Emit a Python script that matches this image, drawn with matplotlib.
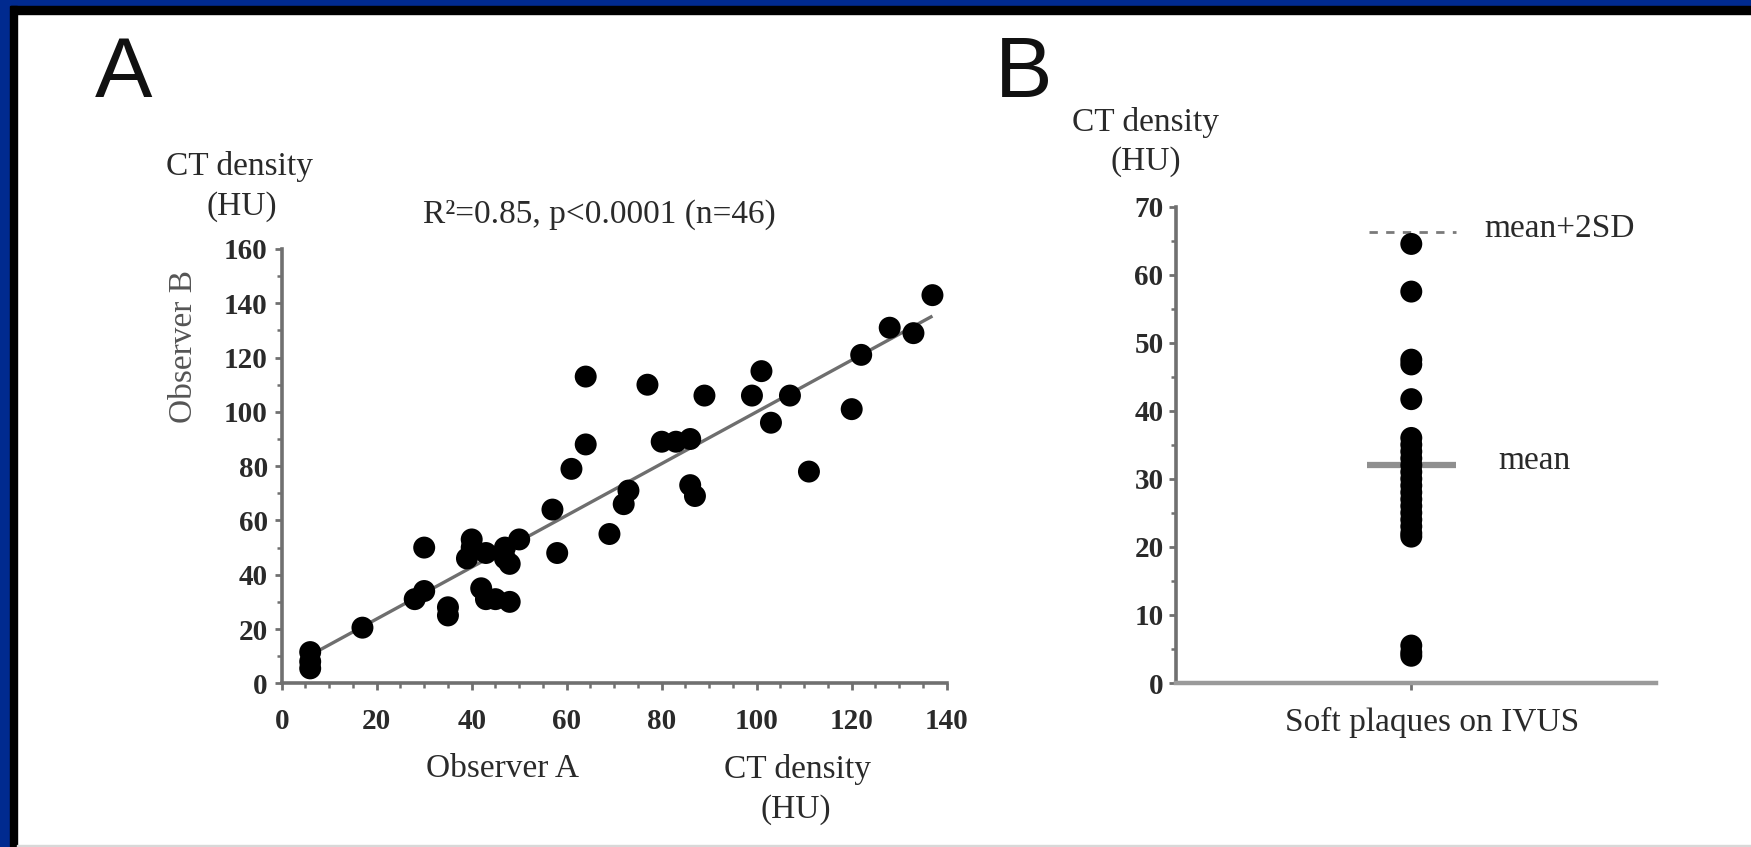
import numpy as np
import matplotlib
matplotlib.use("Agg")
import matplotlib.pyplot as plt
from matplotlib.patches import Rectangle
from matplotlib.ticker import MultipleLocator

# ---------------- data ----------------
observer_a = [6, 6, 6, 17, 30, 28, 30, 35, 35, 40, 40, 39, 43, 42, 43, 45, 48, 47, 47, 48,
              50, 57, 58, 61, 64, 64, 69, 72, 73, 77, 80, 83, 86, 86, 87, 89, 99, 101, 103,
              107, 111, 120, 122, 128, 133, 137]
observer_b = [11.5, 8, 5.5, 20.5, 50, 31, 34, 28, 25, 53, 50, 46, 48, 35, 31, 31, 30, 50, 46, 44,
              53, 64, 48, 79, 113, 88, 55, 66, 71, 110, 89, 89, 90, 73, 69, 106, 106, 115, 96,
              106, 78, 101, 121, 131, 129, 143]
a_xticks = [0, 20, 40, 60, 80, 100, 120, 140]
a_yticks = [0, 20, 40, 60, 80, 100, 120, 140, 160]
stat_text = "R\u00b2=0.85, p<0.0001 (n=46)"

soft_plaque_ct = [64.5, 57.5, 47.5, 46.8, 41.7, 36, 35, 34, 33, 32, 31, 30, 29, 28, 27, 26,
                  25, 24, 23, 22, 21.5, 5.5, 4.5, 4]
b_yticks = [0, 10, 20, 30, 40, 50, 60, 70]
mean_value = 32
mean_plus_2sd = 66.3

# ---------------- figure ----------------
W, H = 1751, 847
fig = plt.figure(figsize=(W / 100, H / 100), dpi=100)
fig.patch.set_facecolor("white")

def fx(x):
    return x / W

def fy(y):
    return 1 - y / H

# frame (blue outer, black inner shadow on top and left)
blue = "#002a8f"
fig.patches.append(Rectangle((0, fy(6)), 1, 6 / H, transform=fig.transFigure, color=blue, zorder=0))
fig.patches.append(Rectangle((fx(10), fy(14)), 1, 8 / H, transform=fig.transFigure, color="black", zorder=0))
fig.patches.append(Rectangle((0, 0), 10 / W, 1, transform=fig.transFigure, color=blue, zorder=0))
fig.patches.append(Rectangle((fx(10), 0), 7 / W, fy(6), transform=fig.transFigure, color="black", zorder=0))
fig.patches.append(Rectangle((fx(17), 0), 1, 2 / H, transform=fig.transFigure, color="#d8d8d8", zorder=0))

serif = ["Liberation Serif", "DejaVu Serif"]
sans = ["Liberation Sans", "DejaVu Sans"]
txt_col = "#2a2a2a"
axis_col = "#707070"
LBL = 24
TCK = 21

def style_axes(ax):
    for s in ["top", "right"]:
        ax.spines[s].set_visible(False)
    for s in ["left", "bottom"]:
        ax.spines[s].set_color(axis_col)
        ax.spines[s].set_linewidth(2.6)
    ax.tick_params(which="major", direction="out", length=5, width=2, color=axis_col,
                   labelcolor=txt_col)
    ax.tick_params(which="minor", direction="out", length=3.5, width=1.8, color=axis_col)
    for lab in ax.get_xticklabels() + ax.get_yticklabels():
        lab.set_fontfamily(serif)
        lab.set_fontweight("bold")
        lab.set_fontsize(TCK)

# ---------------- panel A ----------------
axA = fig.add_axes([fx(281.7), fy(683.3), 665 / W, 434.3 / H])
axA.set_xlim(0, 140)
axA.set_ylim(0, 160)
axA.set_xticks(a_xticks)
axA.set_yticks(a_yticks)
axA.xaxis.set_minor_locator(MultipleLocator(5))
axA.yaxis.set_minor_locator(MultipleLocator(10))
style_axes(axA)
axA.tick_params(axis="x", which="major", pad=13)
axA.tick_params(axis="y", which="major", pad=5)

xa = np.array(observer_a, dtype=float)
yb = np.array(observer_b, dtype=float)
slope, intercept = np.polyfit(xa, yb, 1)
xl = np.array([xa.min(), xa.max()])
axA.plot(xl, slope * xl + intercept, color="#6e6e6e", lw=2.4, zorder=2, solid_capstyle="butt")
axA.scatter(xa, yb, s=250, color="black", edgecolors="none", zorder=3, clip_on=False)

fig.text(fx(124), fy(75), "A", fontsize=62, family=sans, color="#111111", ha="center", va="center")
fig.text(fx(240), fy(167), "CT density", fontsize=LBL, family=serif, color=txt_col, ha="center", va="center")
fig.text(fx(242), fy(207), "(HU)", fontsize=LBL, family=serif, color=txt_col, ha="center", va="center")
fig.text(fx(599), fy(215), stat_text, fontsize=LBL, family=serif, color=txt_col, ha="center", va="center")
fig.text(fx(184), fy(346), "Observer B", fontsize=LBL, family=serif, color="#555555",
         ha="center", va="center", rotation=90)
fig.text(fx(502), fy(769), "Observer A", fontsize=LBL, family=serif, color=txt_col, ha="center", va="center")
fig.text(fx(797), fy(769), "CT density", fontsize=LBL, family=serif, color=txt_col, ha="center", va="center")
fig.text(fx(796), fy(810), "(HU)", fontsize=LBL, family=serif, color=txt_col, ha="center", va="center")

# ---------------- panel B ----------------
axB = fig.add_axes([fx(1176), fy(683), 480 / W, 476.5 / H])
axB.set_xlim(0, 2.04)
axB.set_ylim(0, 70)
axB.set_yticks(b_yticks)
axB.yaxis.set_minor_locator(MultipleLocator(5))
axB.set_xticks([1])
axB.set_xticklabels([""])
style_axes(axB)
axB.spines["bottom"].set_color("#9a9a9a")
axB.spines["bottom"].set_linewidth(3.2)
axB.tick_params(axis="y", which="major", pad=4)

xs = np.ones(len(soft_plaque_ct))
axB.scatter(xs, soft_plaque_ct, s=250, color="black", edgecolors="none", zorder=3, clip_on=False)
axB.plot([0.81, 1.19], [mean_value, mean_value], color="#8f8f8f", lw=4.5, zorder=2, solid_capstyle="butt")
axB.plot([0.82, 1.19], [mean_plus_2sd, mean_plus_2sd], color="#7a7a7a", lw=2.0, zorder=2,
         linestyle=(0, (3, 3)))

fig.text(fx(1024), fy(75), "B", fontsize=62, family=sans, color="#111111", ha="center", va="center")
fig.text(fx(1145), fy(123), "CT density", fontsize=LBL, family=serif, color=txt_col, ha="center", va="center")
fig.text(fx(1146), fy(162), "(HU)", fontsize=LBL, family=serif, color=txt_col, ha="center", va="center")
fig.text(fx(1484), fy(229), "mean+2SD", fontsize=LBL, family=serif, color=txt_col, ha="left", va="center")
fig.text(fx(1498), fy(461), "mean", fontsize=LBL, family=serif, color=txt_col, ha="left", va="center")
fig.text(fx(1432), fy(722), "Soft plaques on IVUS", fontsize=LBL, family=serif, color=txt_col,
         ha="center", va="center")

fig.savefig("out.png", dpi=100, facecolor="white")
